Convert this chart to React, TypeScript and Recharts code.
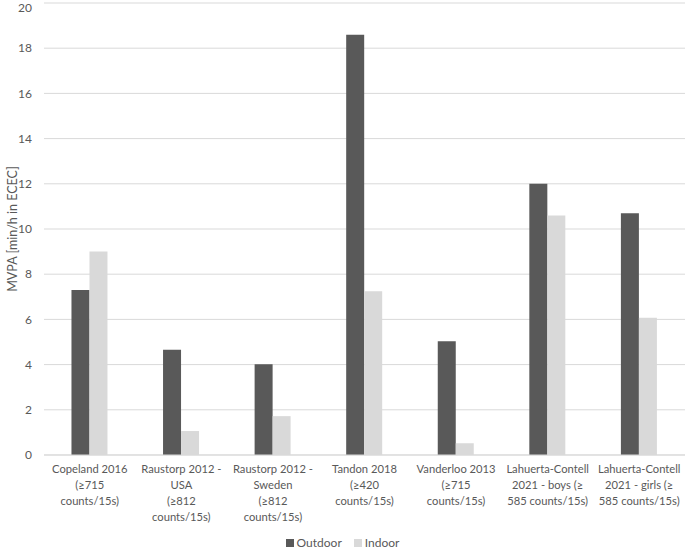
import React from 'react';
import { BarChart, Bar, XAxis, YAxis, CartesianGrid, Legend, Label } from 'recharts';

const categories = [
  'Copeland 2016\n(≥715\ncounts/15s)',
  'Raustorp 2012 -\nUSA\n(≥812\ncounts/15s)',
  'Raustorp 2012 -\nSweden\n(≥812\ncounts/15s)',
  'Tandon 2018\n(≥420\ncounts/15s)',
  'Vanderloo 2013\n(≥715\ncounts/15s)',
  'Lahuerta-Contell\n2021 - boys (≥\n585 counts/15s)',
  'Lahuerta-Contell\n2021 - girls (≥\n585 counts/15s)',
];
const outdoor = [7.3, 4.66, 4.01, 18.6, 5.03, 12.0, 10.7];
const indoor = [9.0, 1.06, 1.72, 7.25, 0.52, 10.6, 6.07];
const yTicks = [0, 2, 4, 6, 8, 10, 12, 14, 16, 18, 20];
const seriesNames = ['Outdoor', 'Indoor'];
const seriesColors = ['#595959', '#d9d9d9'];

const data = categories.map((c, i) => ({ name: c, Outdoor: outdoor[i], Indoor: indoor[i] }));

const FONT = 'Lato, "Open Sans", sans-serif';
const TXT = '#595959';

const CatTick = (props: any) => {
  const { x, y, payload } = props;
  const lines = String(payload.value).split('\n');
  return (
    <g transform={`translate(${x},${y})`}>
      <text textAnchor="middle" fill={TXT} fontSize={11.2} fontFamily={FONT}>
        {lines.map((l, i) => (
          <tspan key={i} x={0} dy={i === 0 ? 18 : 16}>{l}</tspan>
        ))}
      </text>
    </g>
  );
};

const LegendContent = () => (
  <div style={{ display: 'flex', justifyContent: 'center', alignItems: 'center', fontFamily: FONT, fontSize: 12, color: TXT, paddingTop: 2 }}>
    {seriesNames.map((n, i) => (
      <span key={n} style={{ display: 'inline-flex', alignItems: 'center', marginRight: i === 0 ? 12 : 0 }}>
        <span style={{ width: 8, height: 8, background: seriesColors[i], display: 'inline-block', marginRight: 3 }} />
        {n}
      </span>
    ))}
  </div>
);

export default function App() {
  return (
    <div style={{ position: 'absolute', left: 0, top: 0, width: 685, height: 551, background: '#fff' }}>
      <BarChart
        width={685}
        height={551}
        data={data}
        margin={{ top: 3, right: 0, left: 0, bottom: 0 }}
        barCategoryGap="30%"
        barGap={0}
      >
        <CartesianGrid vertical={false} stroke="#d9d9d9" />
        <XAxis
          dataKey="name"
          interval={0}
          tick={<CatTick />}
          tickLine={false}
          tickSize={0}
          tickMargin={0}
          axisLine={{ stroke: '#d9d9d9' }}
          height={78}
        />
        <YAxis
          domain={[0, 20]}
          ticks={yTicks}
          width={44}
          axisLine={false}
          tickLine={false}
          tickSize={0}
          tickMargin={12}
          tick={{ fill: TXT, fontSize: 12, fontFamily: FONT }}
        >
          <Label
            value="MVPA [min/h in ECEC]"
            angle={-90}
            position="insideLeft"
            offset={0}
            style={{ textAnchor: 'middle', fill: TXT, fontSize: 12.5, fontFamily: FONT }}
            dx={13}
          />
        </YAxis>
        <Legend verticalAlign="bottom" height={18} content={<LegendContent />} />
        <Bar dataKey="Outdoor" fill="#595959" isAnimationActive={false} />
        <Bar dataKey="Indoor" fill="#d9d9d9" isAnimationActive={false} />
      </BarChart>
    </div>
  );
}
